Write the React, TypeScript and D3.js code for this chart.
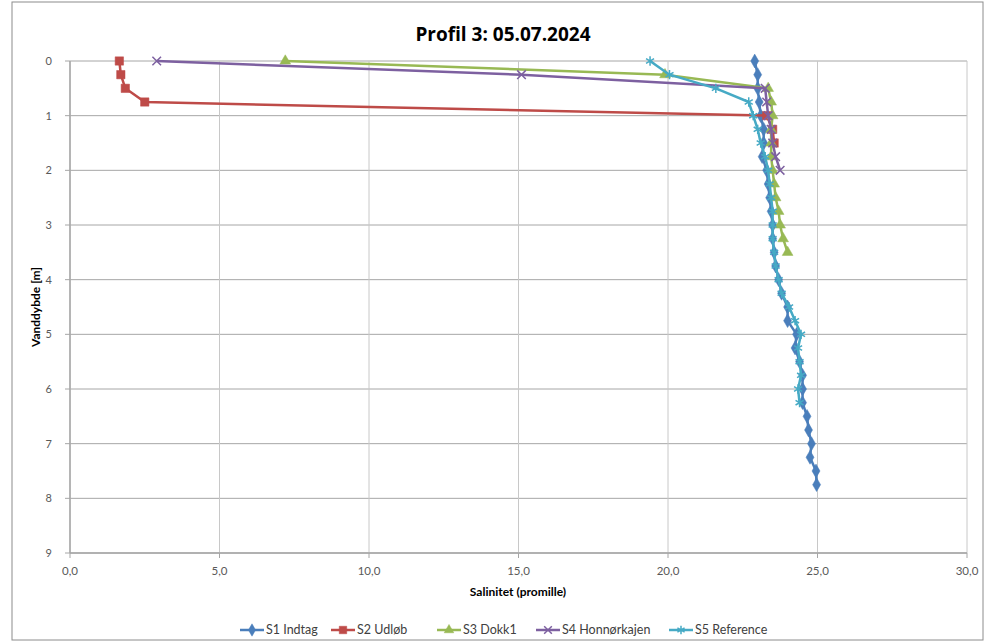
import React from "react";
import * as d3 from "d3";

const seriesNames = ["S1 Indtag", "S2 Udløb", "S3 Dokk1", "S4 Honnørkajen", "S5 Reference"];
const seriesColors = ["#4A7EBB", "#BE4B48", "#98B954", "#7D60A0", "#46AAC5"];

const s1Depth = [0, 0.25, 0.5, 0.75, 1, 1.25, 1.5, 1.75, 2, 2.25, 2.5, 2.75, 3, 3.25, 3.5, 3.75, 4, 4.25, 4.5, 4.75, 5, 5.25, 5.5, 5.75, 6, 6.25, 6.5, 6.75, 7, 7.25, 7.5, 7.75];
const s1Sal = [22.9, 23.0, 23.0, 23.05, 23.1, 23.2, 23.2, 23.15, 23.3, 23.35, 23.4, 23.45, 23.5, 23.5, 23.55, 23.6, 23.7, 23.8, 24.0, 24.0, 24.3, 24.25, 24.4, 24.5, 24.5, 24.5, 24.65, 24.7, 24.8, 24.75, 24.95, 24.97];

const s2Depth = [0, 0.25, 0.5, 0.75, 1, 1.25, 1.5];
const s2Sal = [1.65, 1.7, 1.85, 2.5, 23.3, 23.5, 23.55];

const s3Depth = [0, 0.25, 0.5, 0.75, 1, 1.25, 1.5, 1.75, 2, 2.25, 2.5, 2.75, 3, 3.25, 3.5];
const s3Sal = [7.2, 19.9, 23.35, 23.45, 23.5, 23.45, 23.45, 23.45, 23.5, 23.55, 23.6, 23.7, 23.75, 23.85, 24.0];

const s4Depth = [0, 0.25, 0.5, 0.75, 1, 1.25, 1.5, 1.75, 2];
const s4Sal = [2.9, 15.1, 23.25, 23.3, 23.35, 23.45, 23.5, 23.6, 23.75];

const s5Depth = [0, 0.25, 0.5, 0.75, 1, 1.25, 1.5, 1.75, 2, 2.25, 2.5, 2.75, 3, 3.25, 3.5, 3.75, 4, 4.25, 4.5, 4.75, 5, 5.25, 5.5, 5.75, 6, 6.25];
const s5Sal = [19.4, 20.05, 21.6, 22.7, 22.85, 23.0, 23.1, 23.25, 23.35, 23.4, 23.45, 23.5, 23.5, 23.5, 23.55, 23.6, 23.7, 23.8, 24.05, 24.25, 24.45, 24.35, 24.4, 24.45, 24.35, 24.4];

const xTicks = [0, 5, 10, 15, 20, 25, 30];
const yTicks = [0, 1, 2, 3, 4, 5, 6, 7, 8, 9];

const title = "Profil 3: 05.07.2024";
const xLabel = "Salinitet (promille)";
const yLabel = "Vanddybde [m]";

const W = 987;
const H = 642;
const margin = { left: 70, right: 20, top: 61, bottom: 89 };
const FONT = "Lato, 'Open Sans', sans-serif";

const symbolTypes = [d3.symbolDiamond, d3.symbolSquare, d3.symbolTriangle, d3.symbolTimes, d3.symbolAsterisk];
const symbolSizes = [55, 70, 50, 50, 60];
const symbolStroke = [false, false, false, true, true];

const legendX = [240, 331, 437, 536, 669];

export default function App() {
  const x = d3.scaleLinear().domain([0, 30]).range([margin.left, W - margin.right]);
  const y = d3.scaleLinear().domain([0, 9]).range([margin.top, H - margin.bottom]);

  const series = [
    { d: s1Depth, s: s1Sal },
    { d: s2Depth, s: s2Sal },
    { d: s3Depth, s: s3Sal },
    { d: s4Depth, s: s4Sal },
    { d: s5Depth, s: s5Sal },
  ];

  const line = d3
    .line<[number, number]>()
    .x((p) => x(p[0]))
    .y((p) => y(p[1]));

  const fmt = (v: number) => v.toFixed(1).replace(".", ",");

  const marker = (i: number, cx: number, cy: number, key: string | number, scale = 1) => {
    const path = d3.symbol().type(symbolTypes[i]).size(symbolSizes[i] * scale)() as string;
    return symbolStroke[i] ? (
      <path key={key} d={path} transform={`translate(${cx},${cy})`} fill="none" stroke={seriesColors[i]} strokeWidth={1.5} />
    ) : (
      <path key={key} d={path} transform={`translate(${cx},${cy})`} fill={seriesColors[i]} stroke={seriesColors[i]} strokeWidth={0.5} />
    );
  };

  const x0 = margin.left;
  const x1 = W - margin.right;
  const y0 = margin.top;
  const y1 = H - margin.bottom;

  return (
    <svg width={W} height={H} style={{ position: "absolute", left: 0, top: 0, background: "#fff" }}>
      <rect x={12} y={2} width={W - 16} height={H - 4} fill="#fff" stroke="#8c8c8c" strokeWidth={1} />
      <text x={503} y={41} textAnchor="middle" fontFamily="'Open Sans', Lato, sans-serif" fontSize={19} fontWeight="bold" fill="#000">
        {title}
      </text>
      {/* grid */}
      {yTicks.map((t) => (
        <line key={"gy" + t} x1={x0} x2={x1} y1={y(t)} y2={y(t)} stroke="#a6a6a6" strokeWidth={1} />
      ))}
      {xTicks.map((t) => (
        <line key={"gx" + t} x1={x(t)} x2={x(t)} y1={y0} y2={y1} stroke="#c8c8c8" strokeWidth={1} />
      ))}
      {/* axes */}
      <line x1={x0} x2={x0} y1={y0} y2={y1} stroke="#a6a6a6" strokeWidth={1.5} />
      <line x1={x0} x2={x1} y1={y1} y2={y1} stroke="#a6a6a6" strokeWidth={1.5} />
      {yTicks.map((t) => (
        <g key={"yt" + t}>
          <line x1={x0 - 5} x2={x0} y1={y(t)} y2={y(t)} stroke="#a6a6a6" />
          <text x={x0 - 18} y={y(t) + 4} textAnchor="end" fontFamily={FONT} fontSize={11} fill="#595959">
            {t}
          </text>
        </g>
      ))}
      {xTicks.map((t) => (
        <g key={"xt" + t}>
          <line x1={x(t)} x2={x(t)} y1={y1} y2={y1 + 5} stroke="#a6a6a6" />
          <text x={x(t)} y={y1 + 22} textAnchor="middle" fontFamily={FONT} fontSize={11.5} fill="#595959">
            {fmt(t)}
          </text>
        </g>
      ))}
      <text x={518} y={596} textAnchor="middle" fontFamily={FONT} fontSize={12} fontWeight="bold" fill="#000">
        {xLabel}
      </text>
      <text
        transform={`translate(40,${(y0 + y1) / 2}) rotate(-90)`}
        textAnchor="middle"
        fontFamily={FONT}
        fontSize={12}
        fontWeight="bold"
        fill="#000"
      >
        {yLabel}
      </text>
      {/* series */}
      {series.map((ser, i) => {
        const pts = ser.d.map((dv, j) => [ser.s[j], dv] as [number, number]);
        return (
          <g key={"s" + i}>
            <path d={line(pts) as string} fill="none" stroke={seriesColors[i]} strokeWidth={2.5} strokeLinejoin="round" />
            {pts.map((p, j) => marker(i, x(p[0]), y(p[1]), j))}
          </g>
        );
      })}
      {/* legend */}
      {seriesNames.map((n, i) => (
        <g key={"lg" + i}>
          <line x1={legendX[i]} x2={legendX[i] + 24} y1={630} y2={630} stroke={seriesColors[i]} strokeWidth={2.5} />
          {marker(i, legendX[i] + 12, 630, "m", 0.8)}
          <text x={legendX[i] + 26} y={634} fontFamily={FONT} fontSize={12.5} fill="#404040">
            {n}
          </text>
        </g>
      ))}
    </svg>
  );
}
